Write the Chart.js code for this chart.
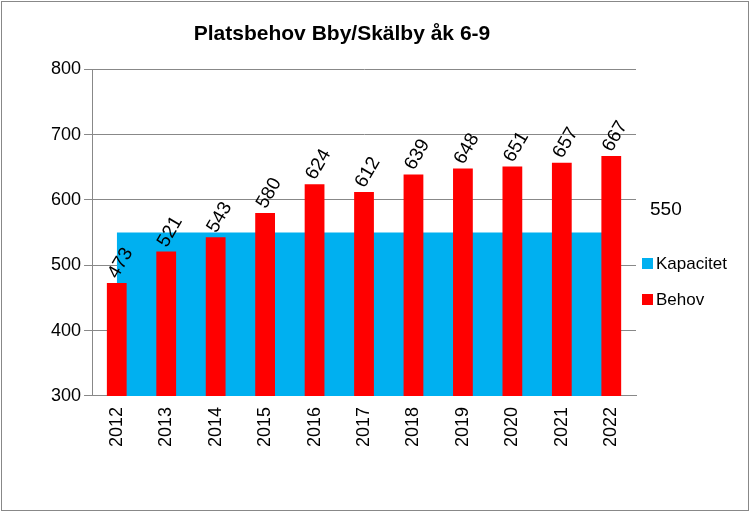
<!DOCTYPE html>
<html><head><meta charset="utf-8">
<script src="https://cdn.jsdelivr.net/npm/chart.js@4"></script>
<style>
body{margin:0;background:#fff}
#wrap{position:absolute;left:1px;top:1px;width:748px;height:510px;border:1px solid #888;box-sizing:border-box}
</style></head><body>
<div id="wrap"><canvas id="c"></canvas></div>
<script>
const years = ['2012','2013','2014','2015','2016','2017','2018','2019','2020','2021','2022'];
const behov = [473,521,543,580,624,612,639,648,651,657,667];
const kapacitet = [550,550,550,550,550,550,550,550,550,550,550];

const font = 'Liberation Sans, Arial, sans-serif';

const labelsPlugin = {
  id: 'labels',
  afterDatasetsDraw(chart) {
    let ctx = chart.ctx;
    let meta = chart.getDatasetMeta(1);
    ctx.save();
    ctx.font = '19px ' + font;
    ctx.fillStyle = '#000';
    meta.data.forEach(function(bar, i) {
      ctx.save();
      ctx.translate(bar.x - 4, bar.y - 6);
      ctx.rotate(-Math.PI / 3);
      ctx.textAlign = 'left';
      ctx.textBaseline = 'middle';
      ctx.fillText(behov[i], 0, 0);
      ctx.restore();
    });
    let area = chart.chartArea;
    ctx.textBaseline = 'middle';
    ctx.fillText(kapacitet[kapacitet.length - 1], area.right + 14, 208);
    ctx.fillStyle = '#00B0F0';
    ctx.fillRect(area.right + 6, 256, 11, 11);
    ctx.fillStyle = '#FF0000';
    ctx.fillRect(area.right + 6, 292, 11, 11);
    ctx.fillStyle = '#000';
    ctx.font = '17px ' + font;
    ctx.fillText('Kapacitet', area.right + 20, 262);
    ctx.fillText('Behov', area.right + 20, 298);
    ctx.restore();
  }
};

new Chart(document.getElementById('c'), {
  data: {
    labels: years,
    datasets: [{
      type: 'line',
      label: 'Kapacitet',
      data: kapacitet,
      borderWidth: 0,
      pointRadius: 0,
      backgroundColor: '#00B0F0',
      fill: 'start',
      order: 2,
    }, {
      type: 'bar',
      label: 'Behov',
      data: behov,
      backgroundColor: '#FF0000',
      barPercentage: 0.4,
      categoryPercentage: 1,
      order: 1,
    }],
  },
  options: {
    responsive: true,
    maintainAspectRatio: false,
    animation: false,
    layout: { padding: { left: 46, right: 112, top: 6, bottom: 60 } },
    plugins: {
      legend: { display: false },
      tooltip: { enabled: false },
      title: {
        display: true,
        text: 'Platsbehov Bby/Skälby åk 6-9',
        font: { family: font, size: 21, weight: 'bold' },
        color: '#000',
        padding: { top: 14, bottom: 22 },
      },
    },
    scales: {
      x: {
        grid: { display: false, drawTicks: true },
        border: { color: '#888' },
        ticks: { color: '#000', font: { family: font, size: 18 }, maxRotation: 90, minRotation: 90 },
      },
      y: {
        min: 300, max: 800,
        ticks: { stepSize: 100, color: '#000', font: { family: font, size: 18 } },
        grid: { color: '#888' },
        border: { color: '#888' },
      },
    },
  },
  plugins: [labelsPlugin],
});
</script>
</body></html>
